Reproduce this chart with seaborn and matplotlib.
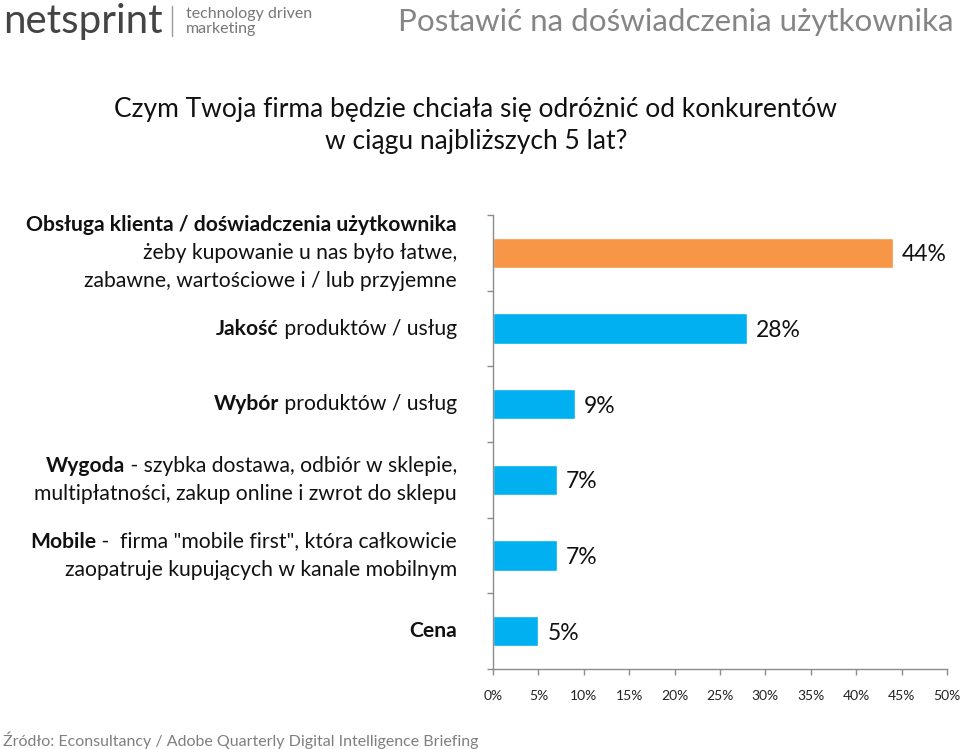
import numpy as np
import pandas as pd
import matplotlib
matplotlib.use("Agg")
import matplotlib.pyplot as plt
import seaborn as sns

# dane
kategorie = ["Obsługa", "Jakość", "Wybór", "Wygoda", "Mobile", "Cena"]
wartosci = [44, 28, 9, 7, 7, 5]
kolory = ["#F79646", "#00B0F0", "#00B0F0", "#00B0F0", "#00B0F0", "#00B0F0"]
etykiety = [
    [[("Obsługa klienta / doświadczenia użytkownika", True)],
     [("żeby kupowanie u nas było łatwe,", False)],
     [("zabawne, wartościowe i / lub przyjemne", False)]],
    [[("Jakość", True), (" produktów / usług", False)]],
    [[("Wybór", True), (" produktów / usług", False)]],
    [[("Wygoda", True), (" - szybka dostawa, odbiór w sklepie,", False)],
     [("multipłatności, zakup online i zwrot do sklepu", False)]],
    [[("Mobile", True), (" -  firma \"mobile first\", która całkowicie", False)],
     [("zaopatruje kupujących w kanale mobilnym", False)]],
    [[("Cena", True)]],
]
xticks = list(range(0, 51, 5))

sns.set_style("white")
plt.rcParams["font.family"] = ["Lato", "DejaVu Sans"]

df = pd.DataFrame({"kat": kategorie, "val": wartosci})

fig = plt.figure(figsize=(9.6, 7.49), dpi=100)
ax = fig.add_axes([493 / 960, 1 - 669 / 749, 454 / 960, 454 / 749])
sns.barplot(data=df, x="val", y="kat", hue="kat", palette=kolory, legend=False,
            width=0.4, saturation=1, ax=ax)

ax.set_xlim(0, 50)
ax.set_ylim(5.5, -0.5)
ax.set_xticks(xticks)
ax.set_xticklabels([f"{t}%" for t in xticks], fontsize=10, color="#222222")
ax.set_yticks(np.arange(-0.5, 6, 1))
ax.set_yticklabels([])
ax.set_xlabel("")
ax.set_ylabel("")
for s in ["top", "right"]:
    ax.spines[s].set_visible(False)
for s in ["left", "bottom"]:
    ax.spines[s].set_color("#8c8c8c")
    ax.spines[s].set_linewidth(1)
ax.tick_params(axis="both", length=4, width=1, color="#8c8c8c", direction="out",
               left=True, bottom=True)
ax.tick_params(axis="x", pad=11)

# wartości przy słupkach
for i, v in enumerate(wartosci):
    ax.annotate(f"{v}%", xy=(v, i), xytext=(9, -2), textcoords="offset pixels",
                ha="left", va="center", fontsize=16.5, color="#111111")

# etykiety kategorii (część pogrubiona)
fig.canvas.draw()
rend = fig.canvas.get_renderer()
x_lab = (457 - 493) / 454
trans = ax.get_yaxis_transform()
line_h = 28
for i, linie in enumerate(etykiety):
    n = len(linie)
    for j, czesci in enumerate(linie):
        dy = ((n - 1) / 2 - j) * line_h
        off = 0
        for tekst, bold in reversed(czesci):
            t = ax.annotate(tekst, xy=(x_lab, i), xycoords=trans,
                            xytext=(-off, dy), textcoords="offset pixels",
                            ha="right", va="center", fontsize=15.2,
                            fontweight="bold" if bold else "normal",
                            color="#111111", annotation_clip=False)
            off += t.get_window_extent(rend).width

# nagłówek
fig.text(3 / 960, 1 - 22 / 749, "netsprint", fontsize=29, color="#444444",
         ha="left", va="center")
fig.add_artist(plt.Line2D([172 / 960, 172 / 960], [1 - 6 / 749, 1 - 36 / 749],
                          color="#999999", lw=1))
fig.text(186 / 960, 1 - 14 / 749, "technology driven", fontsize=11.5, color="#777777",
         ha="left", va="center")
fig.text(186 / 960, 1 - 29 / 749, "marketing", fontsize=11.5, color="#777777",
         ha="left", va="center")
fig.text(953 / 960, 1 - 22 / 749, "Postawić na doświadczenia użytkownika",
         fontsize=22.6, color="#858585", ha="right", va="center")

fig.text(476 / 960, 1 - 110 / 749, "Czym Twoja firma będzie chciała się odróżnić od konkurentów",
         fontsize=19, color="#111111", ha="center", va="center")
fig.text(476 / 960, 1 - 142 / 749, "w ciągu najbliższych 5 lat?",
         fontsize=19, color="#111111", ha="center", va="center")

fig.text(3 / 960, 1 - 740 / 749,
         "Źródło: Econsultancy / Adobe Quarterly Digital Intelligence Briefing",
         fontsize=11.5, color="#7f7f7f", ha="left", va="center")

fig.savefig("out.png", dpi=100)
